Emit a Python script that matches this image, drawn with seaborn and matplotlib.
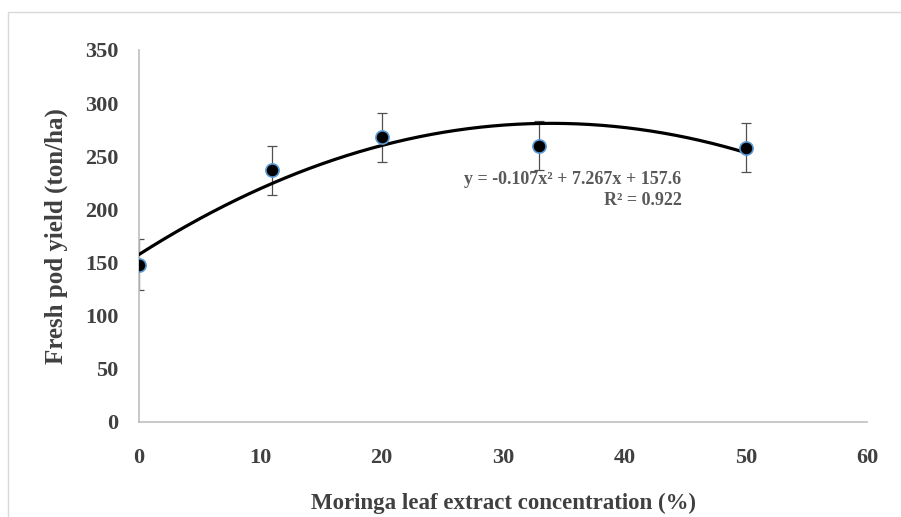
import numpy as np
import pandas as pd
import seaborn as sns
import matplotlib.pyplot as plt
from matplotlib.patches import Rectangle

# data
concentration = [0, 11, 20, 33, 50]
pod_yield = [148, 237, 268, 260, 258]
yield_err = [24, 23, 23, 23, 23]
trend_coef = [-0.107, 7.267, 157.6]  # quadratic trendline from the chart

df = pd.DataFrame({'conc': concentration, 'yield': pod_yield})
x_fit = np.linspace(0, 50, 200)
fit = pd.DataFrame({'conc': x_fit, 'yield': np.polyval(trend_coef, x_fit)})

sns.set_style('white')
plt.rcParams['font.family'] = ['Liberation Serif', 'DejaVu Serif']
plt.rcParams['font.weight'] = 'bold'

fig = plt.figure(figsize=(9.01, 5.17), dpi=100)
# light frame of the chart area
fig.patches.append(Rectangle((8 / 901, -0.1), 1.2, 1.1 - 12 / 517, transform=fig.transFigure,
                             fill=False, edgecolor='#d9d9d9', linewidth=1, zorder=0))
ax = fig.add_axes([0.1543, 0.1838, 0.808, 0.7195])

ax.errorbar(concentration, pod_yield, yerr=yield_err, fmt='none', ecolor='#505050',
            elinewidth=0.9, capsize=3.6, capthick=0.9, zorder=2)
sns.lineplot(data=fit, x='conc', y='yield', ax=ax, color='black', linewidth=2.3, zorder=3)
sns.scatterplot(data=df, x='conc', y='yield', ax=ax, color='black', edgecolor='#5b9bd5',
                linewidth=1.2, s=90, zorder=4)

ax.set_xlim(0, 60)
ax.set_ylim(0, 350)
ax.set_xticks(range(0, 61, 10))
ax.set_yticks(range(0, 351, 50))
for s in ['top', 'right']:
    ax.spines[s].set_visible(False)
for s in ['left', 'bottom']:
    ax.spines[s].set_color('#bfbfbf')
    ax.spines[s].set_linewidth(1.2)
ax.tick_params(axis='both', length=0, labelsize=16, labelcolor='#404040')
ax.tick_params(axis='x', pad=19)
ax.tick_params(axis='y', pad=15)
for lab in ax.get_xticklabels() + ax.get_yticklabels():
    lab.set_fontweight('bold')

ax.set_xlabel('Moringa leaf extract concentration (%)', fontsize=16.5, fontweight='bold',
              color='#404040')
ax.set_ylabel('Fresh pod yield (ton/ha)', fontsize=18, fontweight='bold', color='#404040')
ax.xaxis.set_label_coords(0.5, -0.19)
ax.yaxis.set_label_coords(-0.097, 0.5)

ax.text(44.7, 218, 'y = -0.107x² + 7.267x + 157.6\nR² = 0.922', ha='right', va='center',
        fontsize=13, fontweight='bold', color='#595959', linespacing=1.3)

fig.savefig('out.png', dpi=100)
